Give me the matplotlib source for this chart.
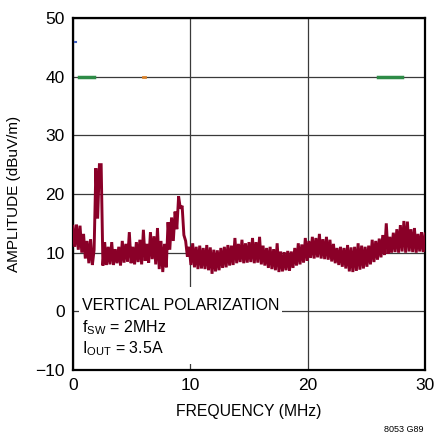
import numpy as np
import matplotlib
matplotlib.use("Agg")
import matplotlib.pyplot as plt

plt.rcParams['font.family'] = ['Liberation Sans', 'DejaVu Sans']
plt.rcParams['mathtext.fontset'] = 'custom'
plt.rcParams['mathtext.rm'] = 'Liberation Sans'
plt.rcParams['mathtext.it'] = 'Liberation Sans'

# Measured amplitude trace (dBuV/m), sampled every 0.15 MHz from 0 to 30 MHz
amplitude = [
    14.5, 11.0, 14.8, 10.5, 14.6, 10.0, 13.2, 9.0, 12.0, 8.2,
    12.3, 7.9, 10.5, 24.4, 15.8, 25.0, 25.0, 7.8, 11.8, 7.9,
    11.0, 8.0, 11.8, 7.9, 10.6, 8.2, 11.0, 7.8, 12.0, 8.3,
    11.5, 8.5, 13.5, 8.2, 11.0, 8.0, 11.8, 8.4, 12.2, 8.0,
    13.9, 8.6, 11.5, 8.3, 13.5, 8.9, 12.8, 8.0, 14.2, 7.2,
    12.0, 6.7, 11.5, 7.5, 15.2, 10.5, 16.0, 12.0, 17.0, 14.0,
    19.6, 17.5, 18.0, 13.0, 12.0, 9.3, 11.0, 7.9, 11.6, 7.5,
    11.0, 7.2, 11.2, 7.3, 10.8, 7.2, 11.3, 7.0, 10.9, 6.4,
    10.5, 6.8, 10.4, 7.0, 10.8, 7.4, 11.0, 7.5, 11.3, 7.8,
    11.2, 7.9, 12.5, 8.2, 11.5, 8.4, 12.2, 8.2, 11.6, 8.3,
    11.8, 8.4, 12.5, 8.2, 11.8, 8.3, 12.7, 8.0, 11.2, 7.8,
    10.8, 7.4, 11.0, 7.2, 10.6, 7.0, 11.6, 6.7, 10.2, 6.8,
    10.1, 7.0, 10.3, 6.9, 10.2, 7.4, 10.8, 7.8, 11.6, 8.0,
    11.4, 8.3, 12.5, 8.6, 12.0, 9.1, 12.7, 9.0, 12.5, 9.2,
    13.2, 9.0, 12.3, 8.9, 12.7, 8.8, 12.2, 8.5, 11.5, 8.2,
    10.8, 7.9, 11.0, 7.6, 10.8, 7.3, 11.3, 6.8, 10.9, 6.7,
    11.0, 6.9, 11.6, 7.1, 11.2, 7.3, 11.0, 7.6, 11.2, 8.0,
    12.2, 8.4, 12.0, 8.8, 12.4, 9.2, 13.0, 9.6, 15.0, 9.8,
    12.7, 10.0, 13.4, 10.1, 14.0, 10.0, 14.7, 10.2, 15.4, 10.0,
    15.3, 10.2, 14.0, 10.1, 14.2, 10.0, 13.2, 10.2, 13.5, 10.1,
    13.2,
]
frequency = [round(0.15 * i, 2) for i in range(len(amplitude))]

# Small leftover legend marks seen in the plot
green_segments = [([0.5, 1.8], [40, 40]), ([26.0, 28.0], [40, 40])]
orange_mark = ([5.95, 6.1], [40, 40])
blue_mark = ([0.15, 0.25], [45.9, 45.9])

x_ticks = [0, 10, 20, 30]
y_ticks = [-10, 0, 10, 20, 30, 40, 50]
y_ticklabels = ['\u221210', '0', '10', '20', '30', '40', '50']

fig = plt.figure(figsize=(4.34, 4.36), dpi=100)
ax = fig.add_axes([73/434, 66/436, 352/434, 352/436])

ax.set_xlim(0, 30)
ax.set_ylim(-10, 50)
ax.set_xticks(x_ticks)
ax.set_yticks(y_ticks)
ax.set_yticklabels(y_ticklabels)
ax.tick_params(length=0, labelsize=12.5, pad=6)
ax.grid(True, color='#3a3a3a', linewidth=0.9)
ax.set_axisbelow(True)
for s in ax.spines.values():
    s.set_linewidth(1.6)
    s.set_color('black')

ax.plot(frequency, amplitude, color='#8a0028', linewidth=2.1, solid_joinstyle='miter', zorder=3)

for xs, ys in green_segments:
    ax.plot(xs, ys, color='#2e8b47', linewidth=2.5, zorder=4)
ax.plot(*orange_mark, color='#d9822b', linewidth=2.0, zorder=4)
ax.plot(*blue_mark, color='#4060c0', linewidth=1.5, zorder=4)

ax.set_xlabel('FREQUENCY (MHz)', fontsize=11.3, labelpad=8)
ax.set_ylabel('AMPLITUDE (dBuV/m)', fontsize=11, labelpad=10)

# White annotation box
box = plt.Rectangle((0.5, -8.9), 17.3, 13.1, facecolor='white', edgecolor='none', zorder=5)
ax.add_patch(box)
ax.text(0.8, 0.3, 'VERTICAL POLARIZATION', fontsize=11.5, zorder=6, va='baseline')
ax.text(0.8, -3.6, r'f$_{\mathrm{SW}}$ = 2MHz', fontsize=11.5, zorder=6, va='baseline')
ax.text(0.8, -7.2, r'I$_{\mathrm{OUT}}$ = 3.5A', fontsize=11.5, zorder=6, va='baseline')

fig.text(424/434, 2/436, '8053 G89', fontsize=6.5, ha='right', va='bottom')

fig.savefig('out.png', dpi=100)
